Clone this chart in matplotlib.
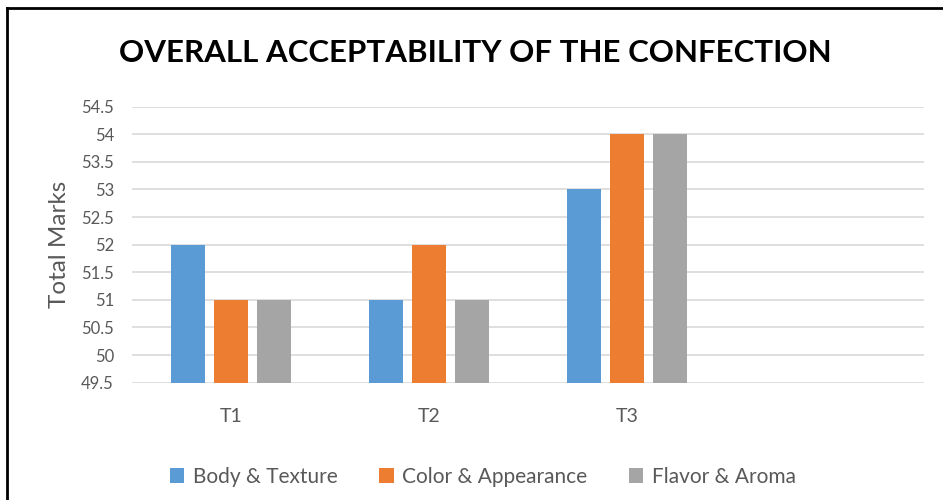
import matplotlib
matplotlib.use("Agg")
import matplotlib.pyplot as plt
from matplotlib.lines import Line2D
import numpy as np

categories = ["T1", "T2", "T3", ""]
series_names = ["Body & Texture", "Color & Appearance", "Flavor & Aroma"]
body_texture = [52, 51, 53]
color_appearance = [51, 52, 54]
flavor_aroma = [51, 51, 54]
y_ticks = [49.5, 50, 50.5, 51, 51.5, 52, 52.5, 53, 53.5, 54, 54.5]

colors = ["#5B9BD5", "#ED7D31", "#A5A5A5"]
plt.rcParams['font.family'] = ['Lato', 'DejaVu Sans']

fig = plt.figure(figsize=(9.43, 5.0), dpi=100)
ax = fig.add_axes([0.14, 0.2346, 0.84, 0.552])

width = 0.172
step = 0.217
x = np.arange(len(body_texture))
for i, (vals, name) in enumerate(zip([body_texture, color_appearance, flavor_aroma], series_names)):
    ax.bar(x + (i - 1) * step, np.array(vals) - 49.5, width, bottom=49.5,
           color=colors[i], label=name, zorder=3)

ax.set_xlim(-0.5, 3.5)
ax.set_ylim(49.5, 54.5)
ax.set_yticks(y_ticks)
ax.set_yticklabels([f"{t:g}" for t in y_ticks])
ax.set_xticks(np.arange(len(categories)))
ax.set_xticklabels(categories)
ax.grid(axis='y', color='#D9D9D9', linewidth=1.2, zorder=0)
for s in ax.spines.values():
    s.set_visible(False)
ax.tick_params(axis='both', length=0, colors='#595959')
ax.tick_params(axis='y', pad=13, labelsize=12)
ax.tick_params(axis='x', pad=18, labelsize=14)
ax.set_ylabel("Total Marks", fontsize=17.5, color='#595959', labelpad=8)

fig.text(0.504, 0.893, "OVERALL ACCEPTABILITY OF THE CONFECTION", ha='center', va='center',
         fontsize=22.5, fontweight='bold', color='black')

leg = fig.legend(loc='center', bbox_to_anchor=(0.512, 0.046), ncol=3, frameon=False,
                 fontsize=15, handlelength=0.7, handleheight=0.7, handletextpad=0.4,
                 columnspacing=2.0)
for t in leg.get_texts():
    t.set_color('#595959')

fig.add_artist(Line2D([6.5/943, 1], [1 - 8/500, 1 - 8/500], color='black', linewidth=2, transform=fig.transFigure))
fig.add_artist(Line2D([6.5/943, 6.5/943], [0, 1 - 8/500], color='black', linewidth=2, transform=fig.transFigure))

fig.savefig("out.png", dpi=100)
